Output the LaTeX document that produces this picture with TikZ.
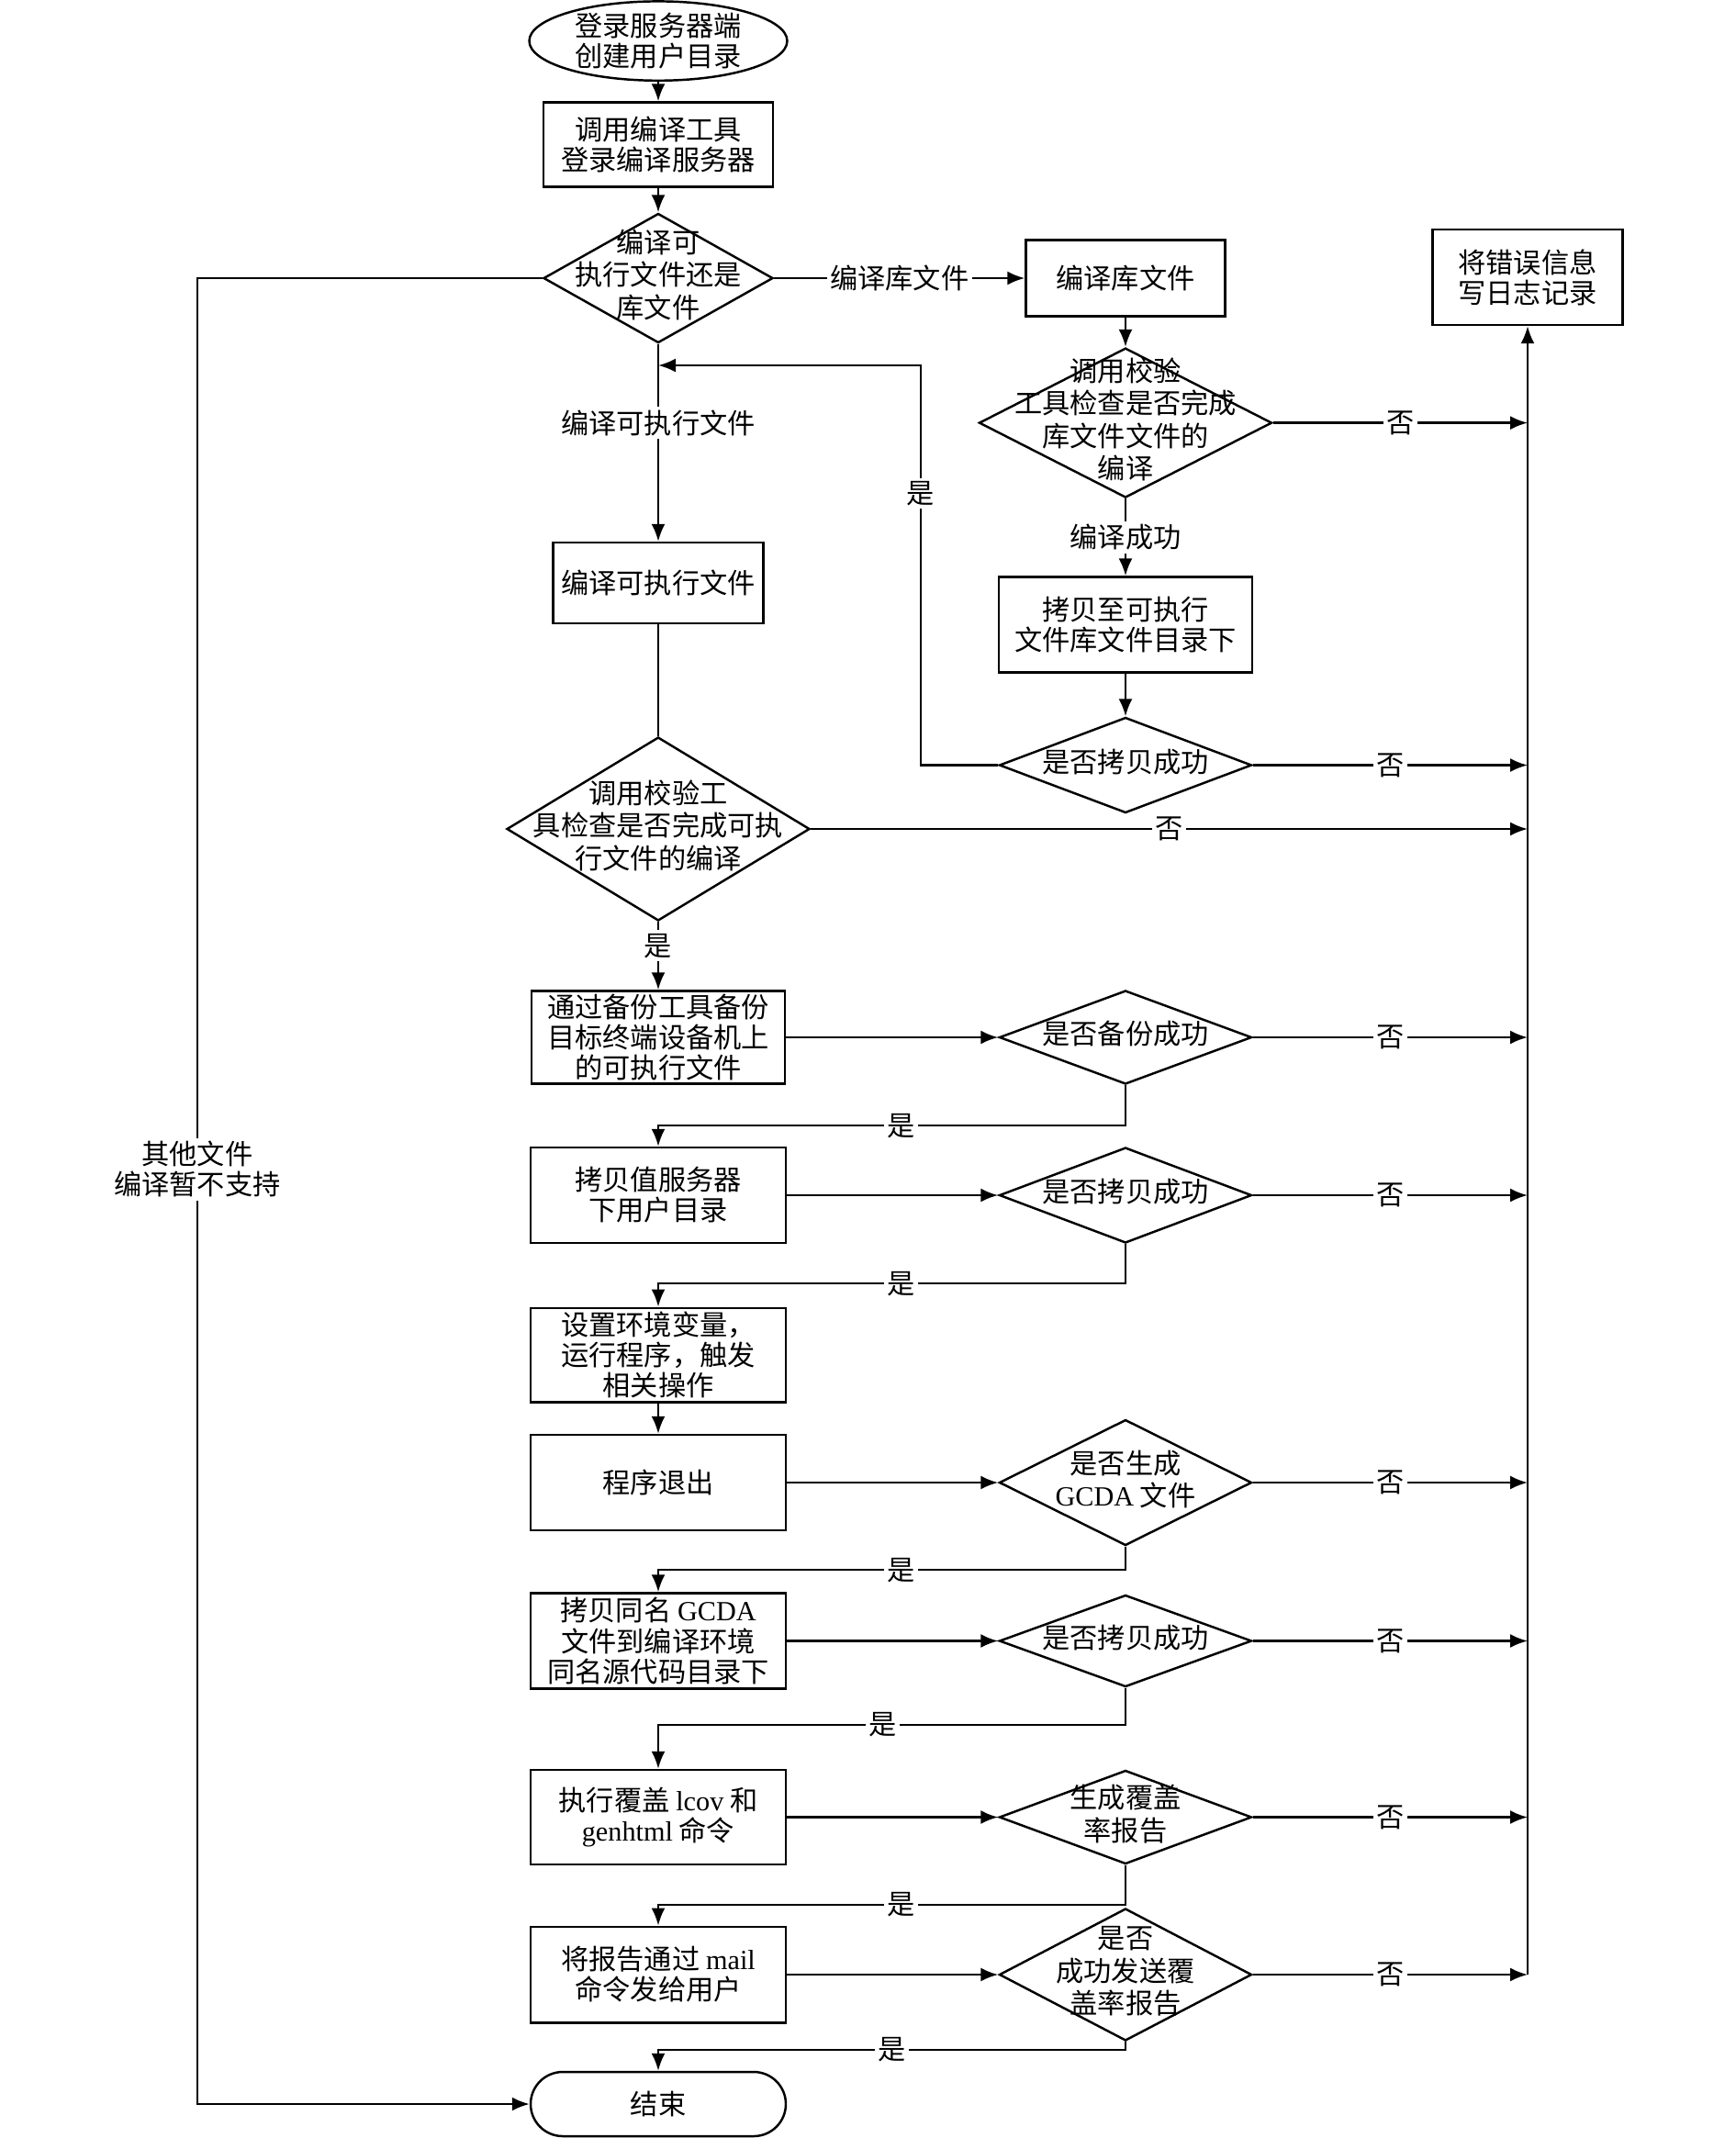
\documentclass[tikz,border=0pt]{standalone}
\usepackage{fontspec}
\setmainfont{Noto Sans CJK SC}
\newfontfamily\en{Liberation Serif}
\usetikzlibrary{shapes.geometric,arrows.meta}
% text of a decision: centred, takes no width of its own
\newcommand{\dtext}[1]{\makebox[0pt]{\begin{tabular}{@{}c@{}}#1\end{tabular}}}

\begin{document}
\begin{tikzpicture}[line width=0.7pt,
    every node/.style={font=\fontsize{8.6}{9.4}\selectfont},
    >={Latex[length=1.9mm,width=1.5mm]},
    box/.style={draw,rectangle,align=center,inner sep=0pt},
    dec/.style={draw,diamond,inner sep=0pt,minimum width=2.75cm},
    lab/.style={fill=white,inner sep=1pt}]
    \useasboundingbox (0,0) rectangle (18.9,-23.29);
    % main column
    \node[draw,ellipse,minimum width=2.81cm,minimum height=0.82cm,align=center,inner sep=0pt] (start) at (7.17,-0.446) {登录服务器端\\创建用户目录};
    \node[box,minimum width=2.50cm,minimum height=0.92cm] (call) at (7.17,-1.575) {调用编译工具\\登录编译服务器};
    \node[dec,minimum width=2.50cm,minimum height=1.41cm] (d1) at (7.17,-3.03) {\dtext{编译可\\执行文件还是\\库文件}};
    \node[box,minimum width=2.29cm,minimum height=0.88cm] (exe) at (7.17,-6.35) {编译可执行文件};
    \node[dec,minimum width=3.30cm,minimum height=2.00cm] (dexe) at (7.17,-9.03) {\dtext{调用校验工\\具检查是否完成可执\\行文件的编译}};
    \node[box,minimum width=2.76cm,minimum height=1.01cm] (backup) at (7.17,-11.30) {通过备份工具备份\\目标终端设备机上\\的可执行文件};
    \node[box,minimum width=2.78cm,minimum height=1.04cm] (copyusr) at (7.17,-13.02) {拷贝值服务器\\下用户目录};
    \node[box,minimum width=2.78cm,minimum height=1.025cm] (env) at (7.17,-14.76) {设置环境变量，\\运行程序，触发\\相关操作};
    \node[box,minimum width=2.78cm,minimum height=1.04cm] (quit) at (7.17,-16.15) {程序退出};
    \node[box,minimum width=2.78cm,minimum height=1.04cm] (copygc) at (7.17,-17.875) {拷贝同名 {\en GCDA}\\文件到编译环境\\同名源代码目录下};
    \node[box,minimum width=2.78cm,minimum height=1.03cm] (lcov) at (7.17,-19.795) {执行覆盖 {\en lcov} 和\\{\en genhtml} 命令};
    \node[box,minimum width=2.78cm,minimum height=1.045cm] (mail) at (7.17,-21.51) {将报告通过 {\en mail}\\命令发给用户};
    \node[box,rounded corners=0.35cm,minimum width=2.78cm,minimum height=0.70cm] (end) at (7.17,-22.92) {结束};
    % right column
    \node[box,minimum width=2.17cm,minimum height=0.83cm] (lib) at (12.26,-3.03) {编译库文件};
    \node[dec,minimum width=3.19cm,minimum height=1.63cm] (dlib) at (12.26,-4.606) {\dtext{调用校验\\工具检查是否完成\\库文件文件的\\编译}};
    \node[box,minimum width=2.76cm,minimum height=1.04cm] (copylib) at (12.26,-6.805) {拷贝至可执行\\文件库文件目录下};
    \node[dec,minimum height=1.04cm] (dcopy1) at (12.26,-8.335) {\dtext{是否拷贝成功}};
    \node[dec,minimum height=1.02cm] (dbak) at (12.26,-11.30) {\dtext{是否备份成功}};
    \node[dec,minimum height=1.04cm] (dcopy2) at (12.26,-13.02) {\dtext{是否拷贝成功}};
    \node[dec,minimum height=1.37cm] (dgcda) at (12.26,-16.15) {\dtext{是否生成\\{\en GCDA} 文件}};
    \node[dec,minimum height=1.00cm] (dcopy3) at (12.26,-17.875) {\dtext{是否拷贝成功}};
    \node[dec,minimum height=1.02cm] (drep) at (12.26,-19.795) {\dtext{生成覆盖\\率报告}};
    \node[dec,minimum height=1.44cm] (dsend) at (12.26,-21.51) {\dtext{是否\\成功发送覆\\盖率报告}};
    \node[box,minimum width=2.07cm,minimum height=1.04cm] (err) at (16.64,-3.02) {将错误信息\\写日志记录};
    \coordinate (back) at (10.03,-3.98);
    \coordinate (lft) at (2.15,-22.92);

    \draw[->] (start) -- (call);
    \draw[->] (call) -- (d1);
    \draw[->] (d1) -- node[lab]{编译库文件} (lib);
    \draw[->] (d1) -- node[lab,pos=0.4]{编译可执行文件} (exe);
    \draw (exe) -- (dexe);
    \draw[->] (d1.west) -| node[lab,pos=0.744,align=center]{其他文件\\编译暂不支持} (lft) -- (end.west);
    \draw[->] (lib) -- (dlib);
    \draw[->] (dlib) -- node[lab]{编译成功} (copylib);
    \draw[->] (copylib) -- (dcopy1);
    \draw[->] (dcopy1.west) -| node[lab,pos=0.84]{是} (back) -- (back -| d1.south);
    \draw[->] (dexe) -- node[lab,pos=0.35]{是} (backup);
    \draw[->] (env) -- (quit);
    % box to decision
    \foreach \a/\b in {backup/dbak,copyusr/dcopy2,quit/dgcda,copygc/dcopy3,lcov/drep,mail/dsend}
        \draw[->] (\a) -- (\b);
    % yes: back to the main column
    \draw[->] (dbak.south) -- ++(0,-0.44) -| node[lab,pos=0.24]{是} (copyusr.north);
    \draw[->] (dcopy2.south) -- ++(0,-0.43) -| node[lab,pos=0.24]{是} (env.north);
    \draw[->] (dgcda.south) -- ++(0,-0.255) -| node[lab,pos=0.24]{是} (copygc.north);
    \draw[->] (dcopy3.south) -- ++(0,-0.40) -| node[lab,pos=0.26]{是} (lcov.north);
    \draw[->] (drep.south) -- ++(0,-0.43) -| node[lab,pos=0.24]{是} (mail.north);
    \draw[->] (dsend.south) -- ++(0,-0.085) -| node[lab,pos=0.25]{是} (end.north);
    % no: to the error log
    \foreach \d in {dlib,dcopy1,dexe,dbak,dcopy2,dgcda,dcopy3,drep,dsend}
        \draw[->] (\d.east) -- node[lab]{否} (\d.east -| err.south);
    \draw[->] (dsend.east -| err.south) -- (err.south);
\end{tikzpicture}
\end{document}
